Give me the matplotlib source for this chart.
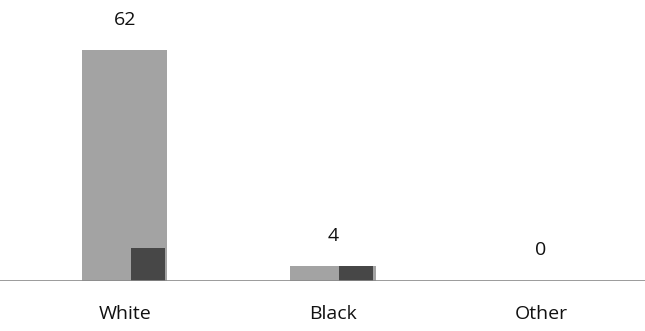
import matplotlib
matplotlib.use('Agg')

import numpy as np
import matplotlib.pyplot as plt

# Data
categories = ['White', 'Black', 'Other']
main_values = [62, 4, 0]      # light grey series (labelled)
inner_values = [9, 4, 0]      # dark overlay series

light_grey = '#a3a3a3'
dark_grey = '#474747'

fig = plt.figure(figsize=(6.45, 3.31), dpi=100)
ax = fig.add_axes([0, 0.151, 1, 0.849])

x = np.arange(len(categories))
ax.bar(x, main_values, width=0.41, color=light_grey, zorder=2)
ax.bar(x + 0.11, inner_values, width=0.165, color=dark_grey, zorder=3)

# value labels above the grey bars
for xi, v in zip(x, main_values):
    ax.annotate(str(v), (xi, v), xytext=(0, 22), textcoords='offset points',
                ha='center', va='center', fontsize=14, family='Open Sans',
                color='#111111')

# baseline
ax.axhline(0, color='#8a8a8a', linewidth=1.2, zorder=4)

ax.set_xlim(-0.6, 2.5)
ax.set_ylim(0, 75.5)
ax.set_xticks(x)
ax.set_xticklabels(categories, fontsize=14, family='Open Sans', color='#111111')
ax.tick_params(axis='x', length=0, pad=17)
ax.set_yticks([])
for s in ax.spines.values():
    s.set_visible(False)

fig.savefig('out.png', dpi=100)
